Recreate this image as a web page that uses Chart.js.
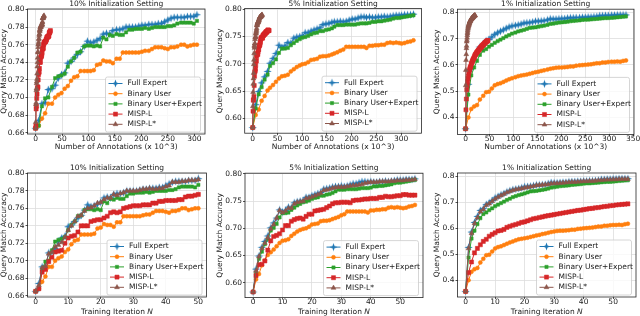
<!DOCTYPE html>
<html>
<head>
<meta charset="utf-8">
<script src="https://cdn.jsdelivr.net/npm/chart.js@4.4.0/dist/chart.umd.min.js"></script>
<style>
html, body { margin: 0; padding: 0; background: #fff; }
#wrap { position: relative; width: 640px; height: 316px; overflow: hidden; }
#wrap canvas { position: absolute; }
</style>
</head>
<body>
<div id="wrap"></div>
<script>
const seriesNames = ['Full Expert', 'Binary User', 'Binary User+Expert', 'MISP-L', 'MISP-L*'];

// ---- 10% initialization (iterations 0..50) ----
const full10 = [0.665,0.674,0.693,0.694,0.709,0.710,0.714,0.722,0.726,0.728,
  0.739,0.741,0.745,0.749,0.752,0.758,0.764,0.762,0.763,0.765,
  0.767,0.772,0.773,0.772,0.776,0.777,0.777,0.778,0.780,0.780,
  0.780,0.780,0.781,0.782,0.782,0.783,0.783,0.783,0.784,0.784,
  0.786,0.788,0.790,0.791,0.791,0.791,0.791,0.792,0.792,0.792,0.794];
const binary10 = [0.665,0.668,0.676,0.682,0.693,0.693,0.700,0.703,0.705,0.710,
  0.713,0.719,0.723,0.724,0.730,0.730,0.730,0.730,0.731,0.737,
  0.738,0.742,0.741,0.741,0.739,0.744,0.744,0.751,0.751,0.751,
  0.751,0.751,0.751,0.752,0.753,0.753,0.755,0.757,0.757,0.757,
  0.756,0.755,0.757,0.757,0.758,0.760,0.760,0.758,0.759,0.760,0.760];
const binExp10 = [0.665,0.668,0.690,0.699,0.700,0.712,0.722,0.724,0.725,0.727,
  0.735,0.741,0.745,0.751,0.752,0.758,0.759,0.759,0.758,0.759,
  0.758,0.768,0.766,0.771,0.770,0.772,0.771,0.771,0.774,0.777,
  0.777,0.778,0.778,0.778,0.779,0.778,0.779,0.780,0.780,0.780,
  0.780,0.781,0.781,0.782,0.784,0.785,0.785,0.785,0.785,0.784,0.787];
const mispL10 = [0.665,0.668,0.687,0.690,0.699,0.704,0.710,0.711,0.712,0.720,
  0.726,0.728,0.729,0.733,0.740,0.740,0.740,0.745,0.746,0.747,
  0.747,0.749,0.751,0.755,0.756,0.755,0.756,0.760,0.761,0.762,
  0.763,0.763,0.763,0.764,0.764,0.764,0.766,0.766,0.768,0.768,
  0.769,0.769,0.769,0.769,0.770,0.770,0.773,0.774,0.774,0.775,0.776];
const mispLs10 = [0.665,0.672,0.692,0.694,0.708,0.710,0.716,0.718,0.721,0.727,
  0.735,0.740,0.745,0.751,0.752,0.757,0.760,0.761,0.763,0.766,
  0.767,0.770,0.772,0.772,0.776,0.775,0.777,0.778,0.780,0.780,
  0.780,0.780,0.781,0.782,0.782,0.783,0.782,0.782,0.783,0.783,
  0.785,0.786,0.790,0.790,0.790,0.791,0.791,0.792,0.792,0.792,0.793];
// annotations (x 10^3) used up to each iteration
const ann10 = [0,6,12,18,24,31,37,43,49,55,61,67,73,79,85,92,98,104,110,116,
  122,128,134,140,146,153,159,165,171,177,183,189,195,201,207,214,220,226,232,238,
  244,250,256,262,268,275,281,287,293,299,305];
const annL10 = [0,0.6,1.1,1.7,2.2,2.8,3.4,3.9,4.5,5.0,5.6,6.2,6.7,7.3,7.8,8.4,9.0,9.5,10.1,10.6,
  11.2,11.8,12.3,12.9,13.4,14.0,14.6,15.1,15.7,16.2,16.8,17.4,17.9,18.5,19.0,19.6,20.2,20.7,21.3,21.8,
  22.4,23.0,23.5,24.1,24.6,25.2,25.8,26.3,26.9,27.4,28.0];
const annLs10 = [0,0.3,0.6,1.0,1.3,1.6,1.9,2.2,2.6,2.9,3.2,3.5,3.8,4.2,4.5,4.8,5.1,5.4,5.8,6.1,
  6.4,6.7,7.0,7.4,7.7,8.0,8.3,8.6,9.0,9.3,9.6,9.9,10.2,10.6,10.9,11.2,11.5,11.8,12.2,12.5,
  12.8,13.1,13.4,13.8,14.1,14.4,14.7,15.0,15.4,15.7,16.0];

// ---- 5% initialization (iterations 0..55) ----
const full5 = [0.583,0.625,0.649,0.665,0.676,0.686,0.701,0.710,0.719,0.734,
  0.730,0.733,0.739,0.738,0.747,0.749,0.750,0.751,0.757,0.757,
  0.760,0.762,0.764,0.766,0.772,0.773,0.774,0.776,0.777,0.777,
  0.778,0.777,0.778,0.780,0.782,0.782,0.784,0.786,0.786,0.785,
  0.786,0.785,0.785,0.786,0.786,0.787,0.786,0.787,0.788,0.789,
  0.789,0.789,0.790,0.790,0.790,0.791];
const binary5 = [0.583,0.606,0.616,0.632,0.641,0.651,0.656,0.661,0.667,0.673,
  0.677,0.678,0.680,0.686,0.690,0.694,0.697,0.699,0.700,0.703,
  0.707,0.708,0.709,0.713,0.714,0.714,0.715,0.717,0.719,0.721,
  0.724,0.726,0.731,0.731,0.731,0.731,0.731,0.731,0.731,0.729,
  0.733,0.733,0.734,0.734,0.735,0.735,0.738,0.739,0.738,0.739,
  0.738,0.737,0.738,0.740,0.741,0.743];
const binExp5 = [0.583,0.618,0.644,0.657,0.671,0.680,0.696,0.701,0.708,0.720,
  0.728,0.728,0.729,0.734,0.738,0.742,0.745,0.748,0.749,0.751,
  0.754,0.756,0.757,0.760,0.760,0.762,0.763,0.765,0.768,0.771,
  0.771,0.771,0.772,0.772,0.772,0.772,0.773,0.774,0.774,0.774,
  0.775,0.777,0.777,0.778,0.778,0.779,0.780,0.781,0.783,0.784,
  0.784,0.785,0.786,0.787,0.788,0.789];
const mispL5 = [0.583,0.613,0.633,0.634,0.640,0.660,0.677,0.685,0.687,0.690,
  0.697,0.705,0.705,0.713,0.716,0.718,0.719,0.717,0.722,0.726,
  0.726,0.732,0.733,0.734,0.735,0.738,0.741,0.745,0.747,0.747,
  0.748,0.748,0.748,0.747,0.751,0.752,0.752,0.753,0.754,0.754,
  0.755,0.755,0.755,0.757,0.757,0.759,0.758,0.758,0.759,0.760,
  0.760,0.762,0.762,0.761,0.761,0.761];
const mispLs5 = [0.583,0.622,0.648,0.663,0.673,0.683,0.699,0.707,0.719,0.733,
  0.729,0.732,0.737,0.737,0.745,0.748,0.749,0.750,0.755,0.756,
  0.758,0.760,0.762,0.765,0.770,0.771,0.772,0.774,0.775,0.776,
  0.776,0.776,0.777,0.778,0.779,0.779,0.780,0.781,0.783,0.784,
  0.785,0.785,0.785,0.786,0.786,0.786,0.786,0.787,0.787,0.788,
  0.788,0.788,0.789,0.789,0.789,0.790];
const ann5 = [0,6,12,18,24,30,35,41,47,53,59,65,71,77,83,89,95,100,106,112,
  118,124,130,136,142,148,154,160,165,171,177,183,189,195,201,207,213,219,225,230,
  236,242,248,254,260,266,272,278,284,290,296,301,307,313,319,325];
const annL5 = [0,0.6,1.2,1.8,2.4,3.0,3.6,4.2,4.8,5.4,6.0,6.6,7.2,7.8,8.4,9.0,9.6,10.2,10.8,11.4,
  12.0,12.6,13.2,13.8,14.4,15.0,15.6,16.2,16.8,17.4,18.0,18.6,19.2,19.8,20.4,21.0,21.6,22.2,22.8,23.4,
  24.0,24.6,25.2,25.8,26.4,27.0,27.6,28.2,28.8,29.4,30.0,30.6,31.2,31.8,32.4,33.0];
const annLs5 = [0,0.3,0.7,1.0,1.4,1.7,2.1,2.4,2.8,3.1,3.5,3.8,4.1,4.5,4.8,5.2,5.5,5.9,6.2,6.6,
  6.9,7.2,7.6,7.9,8.3,8.6,9.0,9.3,9.7,10.0,10.4,10.7,11.0,11.4,11.7,12.1,12.4,12.8,13.1,13.5,
  13.8,14.1,14.5,14.8,15.2,15.5,15.9,16.2,16.6,16.9,17.3,17.6,17.9,18.3,18.6,19.0];

// ---- 1% initialization (iterations 0..55) ----
const full1 = [0.357,0.526,0.585,0.622,0.645,0.668,0.675,0.691,0.697,0.706,
  0.716,0.722,0.728,0.733,0.739,0.744,0.748,0.750,0.752,0.755,
  0.759,0.760,0.761,0.763,0.766,0.766,0.767,0.768,0.771,0.775,
  0.774,0.774,0.775,0.776,0.776,0.778,0.779,0.779,0.780,0.780,
  0.781,0.781,0.782,0.782,0.783,0.784,0.787,0.787,0.788,0.788,
  0.789,0.789,0.790,0.790,0.790,0.790];
const binary1 = [0.357,0.400,0.432,0.442,0.447,0.468,0.482,0.496,0.498,0.510,
  0.522,0.527,0.530,0.535,0.540,0.545,0.549,0.553,0.557,0.559,
  0.561,0.563,0.566,0.569,0.572,0.574,0.577,0.579,0.582,0.585,
  0.587,0.589,0.590,0.590,0.591,0.592,0.594,0.594,0.597,0.598,
  0.599,0.600,0.601,0.602,0.604,0.606,0.606,0.609,0.609,0.611,
  0.612,0.612,0.613,0.612,0.615,0.617];
const binExp1 = [0.357,0.487,0.560,0.590,0.615,0.638,0.654,0.660,0.669,0.676,
  0.684,0.690,0.696,0.702,0.708,0.713,0.719,0.723,0.727,0.730,
  0.733,0.737,0.741,0.742,0.743,0.745,0.747,0.749,0.752,0.756,
  0.757,0.759,0.761,0.762,0.763,0.764,0.766,0.767,0.768,0.769,
  0.771,0.772,0.772,0.773,0.774,0.775,0.776,0.777,0.778,0.778,
  0.779,0.780,0.781,0.782,0.783,0.784];
const mispL1 = [0.357,0.429,0.470,0.505,0.522,0.536,0.549,0.557,0.569,0.576,
  0.582,0.589,0.591,0.595,0.603,0.607,0.611,0.614,0.618,0.622,
  0.624,0.628,0.632,0.636,0.638,0.641,0.643,0.646,0.648,0.650,
  0.652,0.654,0.656,0.658,0.660,0.662,0.664,0.666,0.668,0.669,
  0.671,0.673,0.675,0.676,0.678,0.679,0.681,0.683,0.684,0.686,
  0.687,0.689,0.690,0.691,0.692,0.693];
const mispLs1 = [0.357,0.522,0.580,0.618,0.640,0.663,0.672,0.688,0.694,0.703,
  0.712,0.719,0.725,0.731,0.737,0.741,0.745,0.748,0.750,0.752,
  0.755,0.757,0.759,0.761,0.764,0.765,0.766,0.767,0.768,0.771,
  0.772,0.772,0.773,0.774,0.775,0.776,0.777,0.777,0.778,0.779,
  0.780,0.780,0.781,0.781,0.782,0.783,0.784,0.785,0.786,0.786,
  0.787,0.787,0.788,0.788,0.788,0.788];
const ann1 = [0,6,12,18,24,30,37,43,49,55,61,67,73,79,85,91,97,104,110,116,
  122,128,134,140,146,152,158,164,171,177,183,189,195,201,207,213,219,225,231,238,
  244,250,256,262,268,274,280,286,292,298,305,311,317,323,329,335];
const annL1 = [0,0.9,1.7,2.6,3.4,4.3,5.1,6.0,6.8,7.7,8.6,9.4,10.3,11.1,12.0,12.8,13.7,14.5,15.4,16.2,
  17.1,18.0,18.8,19.7,20.5,21.4,22.2,23.1,23.9,24.8,25.7,26.5,27.4,28.2,29.1,29.9,30.8,31.6,32.5,33.3,
  34.2,35.1,35.9,36.8,37.6,38.5,39.3,40.2,41.0,41.9,42.8,43.6,44.5,45.3,46.2,47.0];
const annLs1 = [0,0.4,0.7,1.1,1.5,1.8,2.2,2.5,2.9,3.3,3.6,4.0,4.4,4.7,5.1,5.5,5.8,6.2,6.5,6.9,
  7.3,7.6,8.0,8.4,8.7,9.1,9.5,9.8,10.2,10.5,10.9,11.3,11.6,12.0,12.4,12.7,13.1,13.5,13.8,14.2,
  14.5,14.9,15.3,15.6,16.0,16.4,16.7,17.1,17.5,17.8,18.2,18.5,18.9,19.3,19.6,20.0];

// tick labels
const yTicks10 = [0.66, 0.68, 0.70, 0.72, 0.74, 0.76, 0.78, 0.80];
const yTicks5 = [0.60, 0.65, 0.70, 0.75, 0.80];
const yTicks1 = [0.4, 0.5, 0.6, 0.7, 0.8];
const annTicks = [0, 50, 100, 150, 200, 250, 300];
const annTicks1 = [0, 50, 100, 150, 200, 250, 300, 350];
const iterTicks = [0, 10, 20, 30, 40, 50];

const settings = [
  { title: '10% Initialization Setting', acc: [full10, binary10, binExp10, mispL10, mispLs10],
    ann: [ann10, ann10, ann10, annL10, annLs10], yTicks: yTicks10, dec: 2, xTicksTop: annTicks,
    yMin: 0.6585, yMax: 0.8005, annMax: 305, iterMax: 50 },
  { title: '5% Initialization Setting', acc: [full5, binary5, binExp5, mispL5, mispLs5],
    ann: [ann5, ann5, ann5, annL5, annLs5], yTicks: yTicks5, dec: 2, xTicksTop: annTicks,
    yMin: 0.5726, yMax: 0.8014, annMax: 325, iterMax: 55 },
  { title: '1% Initialization Setting', acc: [full1, binary1, binExp1, mispL1, mispLs1],
    ann: [ann1, ann1, ann1, annL1, annLs1], yTicks: yTicks1, dec: 1, xTicksTop: annTicks1,
    yMin: 0.3354, yMax: 0.8117, annMax: 335, iterMax: 55 },
];

// page layout: canvas box [x, y, w, h], plot area [l, t, r, b], y-title centre x
const panels = [
  { s: 0, top: true,  box: [0, 0, 213, 158],     area: [27.5, 9, 205, 134],      yTitleX: 4.5 },
  { s: 1, top: true,  box: [213, 0, 213, 158],   area: [244.7, 8.5, 421.5, 133.2], yTitleX: 220.3 },
  { s: 2, top: true,  box: [426, 0, 214, 158],   area: [457.5, 9.2, 634, 134.4], yTitleX: 437.2 },
  { s: 0, top: false, box: [0, 158, 213, 158],   area: [27.5, 173, 206.5, 297],  yTitleX: 3.8 },
  { s: 1, top: false, box: [213, 158, 213, 158], area: [245, 173.2, 423, 297.6], yTitleX: 219.7 },
  { s: 2, top: false, box: [426, 158, 214, 158], area: [457.5, 173, 636, 297],   yTitleX: 437.2 },
];
const rowText = {
  top:    { titleY: 3.8,   tickY: 139.5, xTitleY: 147.5 },
  bottom: { titleY: 168.3, tickY: 302.3, xTitleY: 312 },
};

const FONT = 'DejaVu Sans';
const FS = 7.5;
const INK = '#1a1a1a';

function makeStar(color) {
  const c = document.createElement('canvas');
  c.width = 9; c.height = 9;
  const g = c.getContext('2d');
  g.fillStyle = color;
  g.beginPath();
  for (let k = 0; k < 8; k++) {
    const a = -Math.PI / 2 + k * Math.PI / 4;
    const rr = k % 2 ? 1.5 : 4.1;
    g.lineTo(4.5 + rr * Math.cos(a), 4.5 + rr * Math.sin(a));
  }
  g.closePath();
  g.fill();
  return c;
}

const looks = [
  { color: '#1f77b4', point: makeStar('#1f77b4'), r: 3 },
  { color: '#ff7f0e', point: 'circle', r: 2 },
  { color: '#2ca02c', point: 'rect', r: 2.3 },
  { color: '#d62728', point: 'rect', r: 2.9 },
  { color: '#8c564b', point: 'triangle', r: 2.8 },
];

function roundRect(ctx, x, y, w, h, r) {
  ctx.beginPath();
  ctx.moveTo(x + r, y);
  ctx.arcTo(x + w, y, x + w, y + h, r);
  ctx.arcTo(x + w, y + h, x, y + h, r);
  ctx.arcTo(x, y + h, x, y, r);
  ctx.arcTo(x, y, x + w, y, r);
  ctx.closePath();
}

const decoPlugin = {
  id: 'deco',
  afterDatasetsDraw(chart) {
    const { ctx, chartArea: a } = chart;
    ctx.save();
    ctx.strokeStyle = '#262626';
    ctx.lineWidth = 0.8;
    ctx.strokeRect(a.left, a.top, a.right - a.left, a.bottom - a.top);
    ctx.restore();
  },
  afterDraw(chart, args, o) {
    const { ctx, chartArea: a } = chart;
    const cx = (a.left + a.right) / 2;
    ctx.save();
    ctx.textBaseline = 'middle';
    ctx.fillStyle = INK;
    // panel title
    ctx.font = `${FS}px "${FONT}"`;
    ctx.textAlign = 'center';
    ctx.fillText(o.title, cx, o.titleY);
    // x axis title (may contain an italic part)
    const widths = o.xTitle.map(p => {
      ctx.font = `${p.it ? 'italic ' : ''}${FS}px "${FONT}"`;
      return ctx.measureText(p.t).width;
    });
    let x = cx - widths.reduce((s, w) => s + w, 0) / 2;
    ctx.textAlign = 'left';
    o.xTitle.forEach((p, k) => {
      ctx.font = `${p.it ? 'italic ' : ''}${FS}px "${FONT}"`;
      ctx.fillText(p.t, x, o.xTitleY);
      x += widths[k];
    });
    // legend inside, lower right
    const w = 95, h = 55;
    const x0 = a.right - 4.5 - w, y0 = a.bottom - 2 - h;
    roundRect(ctx, x0, y0, w, h, 2);
    ctx.fillStyle = 'rgba(255,255,255,0.8)';
    ctx.fill();
    ctx.strokeStyle = '#cccccc';
    ctx.lineWidth = 0.8;
    ctx.stroke();
    ctx.font = `${FS}px "${FONT}"`;
    chart.data.datasets.forEach((ds, k) => {
      const yy = y0 + 6.5 + k * 10.2;
      ctx.strokeStyle = ds.borderColor;
      ctx.lineWidth = 1;
      ctx.beginPath(); ctx.moveTo(x0 + 3, yy); ctx.lineTo(x0 + 17, yy); ctx.stroke();
      ctx.fillStyle = ds.pointBackgroundColor;
      ctx.strokeStyle = ds.pointBorderColor;
      ctx.lineWidth = 0.5;
      Chart.helpers.drawPoint(ctx, { pointStyle: ds.pointStyle, radius: ds.pointRadius, borderWidth: 0.5, rotation: 0 }, x0 + 10, yy);
      ctx.fillStyle = INK;
      ctx.fillText(ds.label, x0 + 22, yy);
    });
    ctx.restore();
  }
};

const wrap = document.getElementById('wrap');

panels.forEach(p => {
  const s = settings[p.s];
  const [bx, by, bw, bh] = p.box;
  const [l, t, r, b] = p.area;
  const txt = p.top ? rowText.top : rowText.bottom;
  const cv = document.createElement('canvas');
  cv.width = bw; cv.height = bh;
  cv.style.left = bx + 'px'; cv.style.top = by + 'px';
  cv.style.width = bw + 'px'; cv.style.height = bh + 'px';
  wrap.appendChild(cv);

  const yW = l - bx;
  const xH = by + bh - b;
  const tl = 2;
  const xMin = p.top ? -0.05 * s.annMax : -0.05 * s.iterMax;
  const xMax = p.top ? 1.05 * s.annMax : 1.05 * s.iterMax;
  const xTicks = p.top ? s.xTicksTop : iterTicks;

  const datasets = seriesNames.map((name, k) => ({
    label: name,
    data: s.acc[k].map((v, i) => ({ x: p.top ? s.ann[k][i] : i, y: v })),
    borderColor: looks[k].color,
    backgroundColor: looks[k].color,
    pointBackgroundColor: looks[k].color,
    pointBorderColor: looks[k].color,
    pointBorderWidth: 0.5,
    pointStyle: looks[k].point,
    pointRadius: looks[k].r,
    borderWidth: 1,
    tension: 0,
    order: -k,
  }));

  new Chart(cv, {
    type: 'line',
    data: { datasets },
    plugins: [decoPlugin],
    options: {
      responsive: false,
      animation: false,
      devicePixelRatio: 1,
      layout: { autoPadding: false, padding: { left: 0, top: t - by, right: bx + bw - r, bottom: 0 } },
      plugins: {
        legend: { display: false },
        tooltip: { enabled: false },
        deco: {
          title: s.title,
          titleY: txt.titleY - by,
          xTitleY: txt.xTitleY - by,
          xTitle: p.top ? [{ t: 'Number of Annotations (x 10^3)' }] : [{ t: 'Training Iteration ' }, { t: 'N', it: true }],
        },
      },
      scales: {
        x: {
          type: 'linear', min: xMin, max: xMax,
          afterBuildTicks: sc => { sc.ticks = xTicks.map(v => ({ value: v })); },
          afterFit: sc => { sc.height = xH; },
          grid: { color: '#dddddd', lineWidth: 0.8, tickLength: tl, tickColor: '#262626', tickWidth: 0.8 },
          border: { display: false },
          ticks: {
            font: { family: FONT, size: FS, lineHeight: 1 }, color: INK, maxRotation: 0, autoSkip: false,
            padding: (txt.tickY - b) - tl - FS / 2,
            callback: v => String(v),
          },
        },
        y: {
          type: 'linear', min: s.yMin, max: s.yMax,
          afterBuildTicks: sc => { sc.ticks = s.yTicks.map(v => ({ value: v })); },
          afterFit: sc => { sc.width = yW; },
          grid: { color: '#dddddd', lineWidth: 0.8, tickLength: tl, tickColor: '#262626', tickWidth: 0.8 },
          border: { display: false },
          ticks: {
            font: { family: FONT, size: FS, lineHeight: 1 }, color: INK, padding: 1,
            callback: v => Number(v).toFixed(s.dec),
          },
          title: {
            display: true, text: 'Query Match Accuracy', color: INK,
            font: { family: FONT, size: FS, lineHeight: 1 },
            padding: { top: p.yTitleX - bx - FS / 2, bottom: 0 },
          },
        },
      },
    },
  });
});
</script>
</body>
</html>
